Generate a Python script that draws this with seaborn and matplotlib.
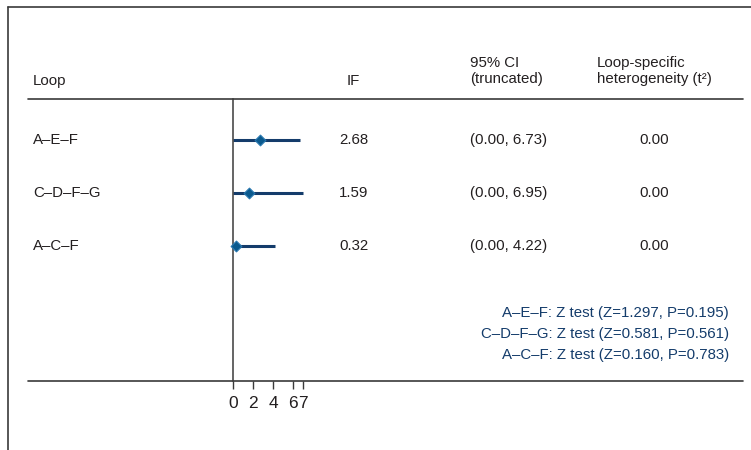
import matplotlib
matplotlib.use("Agg")
import matplotlib.pyplot as plt
import pandas as pd
import seaborn as sns
from matplotlib.lines import Line2D

loops = ["A\u2013E\u2013F", "C\u2013D\u2013F\u2013G", "A\u2013C\u2013F"]
if_values = [2.68, 1.59, 0.32]
ci_low = [0.00, 0.00, 0.00]
ci_high = [6.73, 6.95, 4.22]
tau2 = [0.00, 0.00, 0.00]
z_values = [1.297, 0.581, 0.160]
p_values = [0.195, 0.561, 0.783]
x_ticks = [0, 2, 4, 6, 7]

sns.set_style("white")
plt.rcParams["font.family"] = ["Liberation Sans Narrow", "Liberation Sans", "DejaVu Sans"]
plt.rcParams["font.stretch"] = "condensed"

W, H = 751, 450
TXT = "#231f20"
NAVY = "#143c6b"
LINE = "#3a3a3a"
FS = 10.8


def fx(px):
    return px / W


def fy(py):
    return 1 - py / H


df = pd.DataFrame({"loop": loops, "IF": if_values, "row": range(len(loops))})

fig = plt.figure(figsize=(7.51, 4.5), dpi=100)

# forest panel: 0..7 spans pixel 233..303, rows between header and bottom rules
ax = fig.add_axes([fx(233), fy(381), fx(303) - fx(233), (381 - 99) / H])
ax.hlines(df["row"], ci_low, ci_high, color=NAVY, lw=2.2, clip_on=False)
sns.scatterplot(data=df, x="IF", y="row", marker="D", s=30, color="#0b5a8e",
                edgecolor="#2a78b0", linewidth=0.8, ax=ax, clip_on=False, zorder=3)
ax.set_xlim(0, 7)
ax.set_ylim(4.547, -0.774)
ax.set_xticks(x_ticks)
ax.set_xticklabels([str(t) for t in x_ticks])
ax.set_yticks([])
ax.set_xlabel("")
ax.set_ylabel("")
for side in ["top", "right", "bottom"]:
    ax.spines[side].set_visible(False)
ax.spines["left"].set_color(LINE)
ax.spines["left"].set_linewidth(1.1)
ax.tick_params(axis="x", bottom=True, direction="out", length=6, width=1,
               color=LINE, labelsize=12.5, labelcolor=TXT, pad=5)
ax.patch.set_alpha(0)

# frame and rules
for x0, y0, x1, y1 in [(8, 7, 751, 7), (8, 7, 8, 450), (28, 99, 743, 99), (28, 381, 743, 381)]:
    fig.add_artist(Line2D([fx(x0), fx(x1)], [fy(y0), fy(y1)], color=LINE, lw=1.2))

# headers
fig.text(fx(33), fy(81), "Loop", fontsize=FS, color=TXT, va="center")
fig.text(fx(353), fy(81), "IF", fontsize=FS, color=TXT, va="center", ha="center")
fig.text(fx(470), fy(71), "95% CI\n(truncated)", fontsize=FS, color=TXT,
         va="center", linespacing=1.2)
fig.text(fx(597), fy(71), "Loop-specific\nheterogeneity (t\u00b2)", fontsize=FS,
         color=TXT, va="center", linespacing=1.2)

# rows
row_y = [140, 193, 246]
for name, v, lo, hi, t, y in zip(loops, if_values, ci_low, ci_high, tau2, row_y):
    fig.text(fx(33), fy(y), name, fontsize=FS, color=TXT, va="center")
    fig.text(fx(354), fy(y), f"{v:.2f}", fontsize=FS, color=TXT, va="center", ha="center")
    fig.text(fx(470), fy(y), f"({lo:.2f}, {hi:.2f})", fontsize=FS, color=TXT, va="center")
    fig.text(fx(654), fy(y), f"{t:.2f}", fontsize=FS, color=TXT, va="center", ha="center")

# z tests
z_y = [313, 334, 355]
for name, z, p, y in zip(loops, z_values, p_values, z_y):
    fig.text(fx(729), fy(y), f"{name}: Z test (Z={z:.3f}, P={p:.3f})", fontsize=FS,
             color=NAVY, va="center", ha="right")

fig.savefig("out.png", dpi=100)
